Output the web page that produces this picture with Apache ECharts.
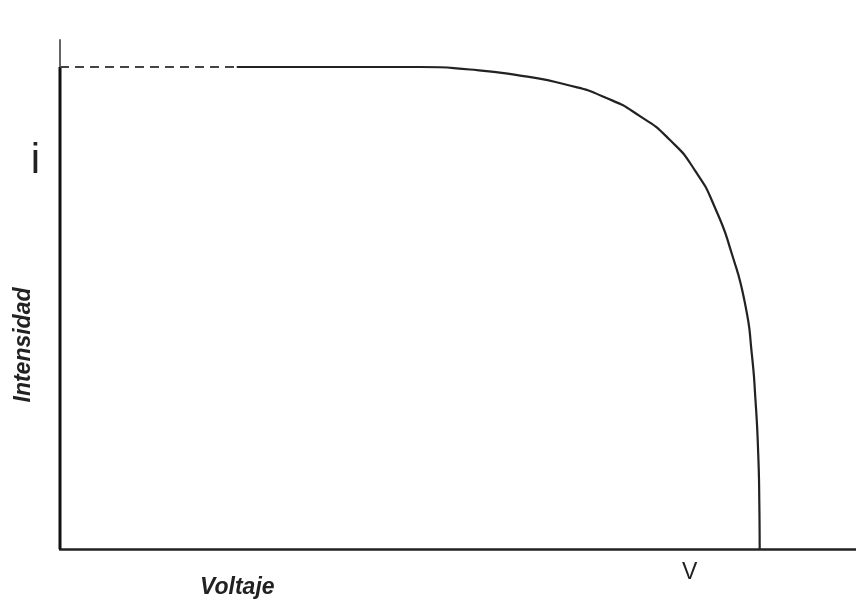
<!DOCTYPE html>
<html>
<head>
<meta charset="utf-8">
<script src="https://cdn.jsdelivr.net/npm/echarts@6/dist/echarts.min.js"></script>
<style>html,body{margin:0;padding:0;background:#fff}#c{width:856px;height:606px}</style>
</head>
<body>
<div id="c"></div>
<script>
// Data (x: voltage in % of axis, y: current in % of axis)
const verticalStart = [[0, 0], [0, 94.7]];
const dashedPart = [[0, 94.7], [22.2, 94.7]];
const curveX = [22.2, 33.9, 45.2, 51.5, 57.8, 63.4, 68.5, 72.9, 76.6, 79.8, 82.3, 84.4, 86.1, 86.9, 87.37, 87.7, 87.85, 87.9];
const curveY = [94.7, 94.7, 94.7, 94.2, 93.0, 91.3, 88.7, 85.0, 80.4, 74.3, 67.0, 58.0, 47.9, 38.5, 29.3, 19.4, 9.6, 0];
const xTickValues = [79.1];
const xTickLabels = ['V'];
const yTickValues = [76.2];
const yTickLabels = ['i'];
const xTitle = 'Voltaje';
const yTitle = 'Intensidad';

const curve = curveX.map((x, i) => [x, curveY[i]]);

const chart = echarts.init(document.getElementById('c'));
chart.setOption({
  animation: false,
  backgroundColor: '#fff',
  grid: { left: 60, right: 0, top: 40, bottom: 57, containLabel: false },
  xAxis: {
    type: 'value', min: 0, max: 100,
    splitLine: { show: false },
    axisLine: { show: true, lineStyle: { color: '#222', width: 2.5 } },
    axisTick: { show: false },
    axisLabel: {
      customValues: xTickValues,
      formatter: v => xTickLabels[xTickValues.indexOf(v)] || '',
      fontFamily: 'Liberation Sans', fontSize: 23, color: '#222', margin: 12
    }
  },
  yAxis: {
    type: 'value', min: 0, max: 100,
    splitLine: { show: false },
    axisLine: { show: true, lineStyle: { color: '#666', width: 2 } },
    axisTick: { show: false },
    axisLabel: {
      customValues: yTickValues,
      formatter: v => yTickLabels[yTickValues.indexOf(v)] || '',
      fontFamily: 'Liberation Sans', fontSize: 42, color: '#222', margin: 20
    }
  },
  graphic: [
    { type: 'text', left: 200, top: 576,
      style: { text: xTitle, font: 'italic bold 23px "Liberation Sans"', fill: '#222' } },
    { type: 'text', x: 24, y: 345, rotation: Math.PI / 2,
      style: { text: yTitle, font: 'italic bold 23px "Liberation Sans"', fill: '#222', align: 'center', verticalAlign: 'middle' } }
  ],
  series: [
    { type: 'line', data: verticalStart, symbol: 'none', lineStyle: { color: '#111', width: 3 } },
    { type: 'line', data: dashedPart, symbol: 'none', lineStyle: { color: '#444', width: 1.8, type: [9, 6] } },
    { type: 'line', data: curve, symbol: 'none', smooth: 0.6, lineStyle: { color: '#222', width: 2.2 } }
  ]
});
</script>
</body>
</html>
